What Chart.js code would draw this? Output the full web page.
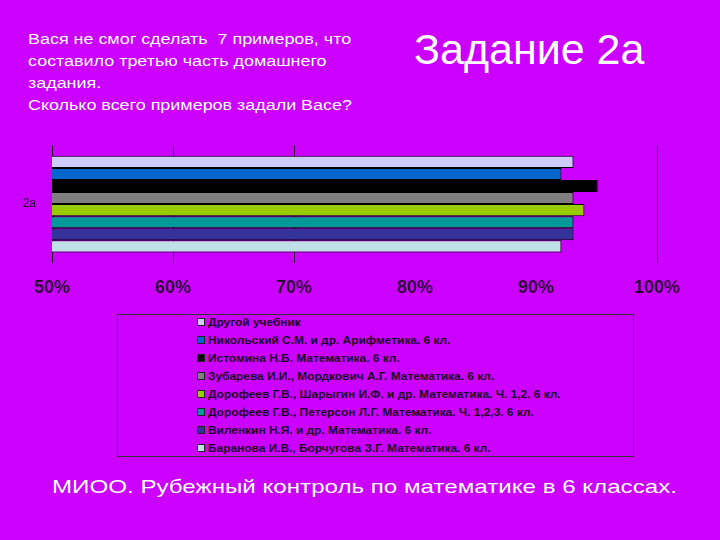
<!DOCTYPE html>
<html><head><meta charset="utf-8">
<script src="https://cdn.jsdelivr.net/npm/chart.js@4/dist/chart.umd.min.js"></script>
<style>
html,body{margin:0;padding:0;}
body{width:720px;height:540px;background:#CC00FF;position:relative;overflow:hidden;font-family:"Liberation Sans",Arial,sans-serif;}
#q{position:absolute;left:28px;top:28px;color:#fff;font-size:14px;line-height:22px;white-space:nowrap;transform:scaleX(1.28);transform-origin:0 0;}
#t{position:absolute;left:414px;top:24px;color:#fff;font-size:43px;line-height:50px;white-space:nowrap;}
#b{position:absolute;left:52px;top:475px;color:#fff;font-size:19px;line-height:24px;white-space:nowrap;transform:scaleX(1.27);transform-origin:0 0;}
#cw{position:absolute;left:0;top:130px;width:720px;height:170px;}
#lg{position:absolute;left:117px;top:314px;width:515px;height:141px;border:1px solid #333;}
.li{position:absolute;left:79px;height:14px;font-weight:bold;font-size:10px;color:#1a0022;white-space:nowrap;line-height:14px;}
.sw{display:inline-block;width:6px;height:6px;border:1px solid #222;margin-right:3px;vertical-align:0px;}
.tx{display:inline-block;transform:scaleX(1.19);transform-origin:0 50%;}
</style></head>
<body>
<div id="q">Вася не смог сделать &nbsp;7 примеров, что<br>составило третью часть домашнего<br>задания.<br>Сколько всего примеров задали Васе?</div>
<div id="t">Задание 2а</div>
<div id="cw"><canvas id="c" width="720" height="170"></canvas></div>
<div id="lg"></div>
<div id="b">МИОО. Рубежный контроль по математике в 6 классах.</div>
<script>
const categories = ["2а"];
const seriesNames = [
  "Другой учебник",
  "Никольский С.М. и др. Арифметика. 6 кл.",
  "Истомина Н.Б. Математика. 6 кл.",
  "Зубарева И.И., Мордкович А.Г. Математика. 6 кл.",
  "Дорофеев Г.В., Шарыгин И.Ф. и др. Математика. Ч. 1,2. 6 кл.",
  "Дорофеев Г.В., Петерсон Л.Г. Математика. Ч. 1,2,3. 6 кл.",
  "Виленкин Н.Я. и др. Математика. 6 кл.",
  "Баранова И.В., Борчугова З.Г. Математика. 6 кл."
];
const seriesValues = [93.1, 92.1, 95.1, 93.1, 94.0, 93.1, 93.1, 92.1];
const seriesColors = ["#CCCCFF", "#0066CC", "#000000", "#808080", "#99CC00", "#009999", "#333399", "#BFE0E6"];
const tickValues = [50, 60, 70, 80, 90, 100];
const visibleGrid = [50, 60, 70, 100];

const datasets = seriesNames.map((n, i) => ({
  label: n,
  data: [seriesValues[i]],
  backgroundColor: seriesColors[i],
  borderColor: "#000",
  borderWidth: 1,
  categoryPercentage: 0.82,
  barPercentage: 1.0
}));

new Chart(document.getElementById("c"), {
  type: "bar",
  data: { labels: categories, datasets },
  options: {
    indexAxis: "y",
    responsive: false,
    animation: false,
    events: [],
    layout: { padding: { left: 0, right: 63, top: 13, bottom: 0 } },
    plugins: { legend: { display: false }, tooltip: { enabled: false }, title: { display: false } },
    scales: {
      x: {
        min: 50, max: 100,
        afterBuildTicks: s => { s.ticks = tickValues.map(v => ({ value: v })); },
        afterFit: s => { s.height = 37; },
        border: { display: false },
        grid: {
          drawTicks: false,
          color: ctx => (ctx.tick && visibleGrid.includes(ctx.tick.value)) ? "#220022" : "rgba(0,0,0,0)",
          lineWidth: 1
        },
        ticks: {
          padding: 14,
          color: "#2a0033",
          font: { family: "Liberation Sans, Arial", size: 18, weight: "bold" },
          callback: v => v + "%",
          maxRotation: 0
        }
      },
      y: {
        afterFit: s => { s.width = 52; },
        border: { display: false },
        grid: { display: false },
        ticks: {
          padding: 8,
          color: "#2a0033",
          font: { family: "Liberation Sans, Arial", size: 12 }
        }
      }
    }
  }
});

const lg = document.getElementById("lg");
seriesNames.forEach((n, i) => {
  const d = document.createElement("div");
  d.className = "li";
  d.style.top = (1 + i * 18) + "px";
  d.innerHTML = '<span class="sw" style="background:' + seriesColors[i] + '"></span><span class="tx">' + n + '</span>';
  lg.appendChild(d);
});
</script>
</body></html>
